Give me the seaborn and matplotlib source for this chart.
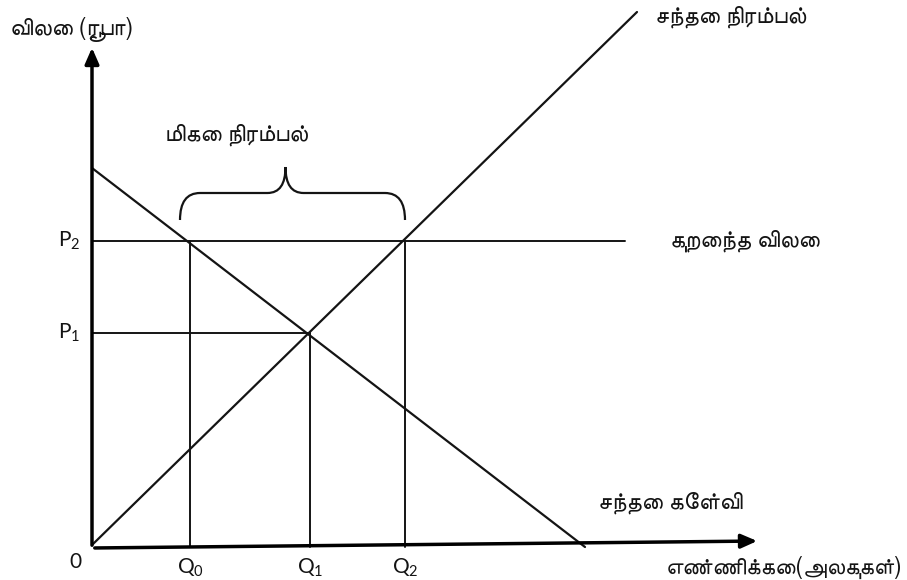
import numpy as np
import pandas as pd
import matplotlib
matplotlib.use("Agg")
import matplotlib.pyplot as plt
import seaborn as sns
from matplotlib import font_manager
from matplotlib.ft2font import FT2Font
from matplotlib.path import Path
from matplotlib.patches import PathPatch

sns.set_theme(style="white")

# -----------------------------------
# data (quantity / price units)
# -----------------------------------
q_marks = [9.8, 21.8, 31.3]          # Q0, Q1, Q2
q_labels = ["Q$_0$", "Q$_1$", "Q$_2$"]
p_marks = [21.4, 30.6]               # P1, P2 (P2 = floor price)
p_labels = ["P$_1$", "P$_2$"]

demand_q = [0.0, 49.3]
demand_p = [37.9, 0.0]
supply_q = [0.0, 54.5]
supply_p = [0.2, 53.5]
floor_end = 53.3

labels = {
    "y": "விலை (ரூபா)",
    "x": "எண்ணிக்கை(அலகுகள்)",
    "supply": "சந்தை நிரம்பல்",
    "demand": "சந்தை கேள்வி",
    "floor": "குறைந்த விலை",
    "surplus": "மிகை நிரம்பல்",
}


def tamil_fonts():
    found = []
    for f in font_manager.fontManager.ttflist:
        try:
            if 0x0B95 in FT2Font(f.fname).get_charmap():
                found.append(f.name)
        except Exception:
            pass
    # prefer proportional sans faces
    found = sorted(set(found), key=lambda n: ("Mono" in n, "Sans" not in n, n))
    return found


tam = tamil_fonts()
latin = ["Lato", "DejaVu Sans"]
tamil_family = tam[:1] + latin
plt.rcParams["font.family"] = latin
plt.rcParams["mathtext.default"] = "regular"
plt.rcParams["mathtext.fontset"] = "custom"
plt.rcParams["mathtext.rm"] = "Lato"

ink = "#141414"

fig = plt.figure(figsize=(9.07, 5.80), dpi=100)
ax = fig.add_axes([0, 0, 1, 1])
ax.set_xlim(-9.2, 81.5)
ax.set_ylim(-3.3, 54.7)
ax.axis("off")

# curves
df = pd.concat([
    pd.DataFrame({"q": demand_q, "p": demand_p, "curve": "demand"}),
    pd.DataFrame({"q": supply_q, "p": supply_p, "curve": "supply"}),
])
sns.lineplot(data=df, x="q", y="p", units="curve", estimator=None,
             color=ink, lw=1.6, ax=ax, legend=False, sort=False)

# floor price line and P1 guide
ax.plot([0, floor_end], [p_marks[1], p_marks[1]], color=ink, lw=1.4)
ax.plot([0, q_marks[1]], [p_marks[0], p_marks[0]], color=ink, lw=1.4)

# vertical guides
ax.plot([q_marks[0], q_marks[0]], [0, p_marks[1]], color=ink, lw=1.4)
ax.plot([q_marks[1], q_marks[1]], [0, p_marks[0]], color=ink, lw=1.4)
ax.plot([q_marks[2], q_marks[2]], [0, p_marks[1]], color=ink, lw=1.4)

# axes with arrows
arrow = dict(arrowstyle="-|>,head_length=0.8,head_width=0.35", color="black", lw=2.5)
ax.annotate("", xy=(0, 50.2), xytext=(0, -0.1), arrowprops=arrow)
ax.annotate("", xy=(66.8, 0.6), xytext=(0, -0.1), arrowprops=arrow)

# brace over the surplus
bl, br = 8.8, q_marks[2]
y0, y1, yt = 32.7, 35.4, 38.0
bm = (bl + br) / 2 - 0.7
verts = [
    (bl, y0), (bl, y1), (bl + 2.0, y1),
    (bm - 1.8, y1),
    (bm, y1), (bm, yt),
    (bm, y1), (bm + 1.8, y1),
    (br - 2.0, y1),
    (br, y1), (br, y0),
]
codes = [Path.MOVETO, Path.CURVE3, Path.CURVE3,
         Path.LINETO,
         Path.CURVE3, Path.CURVE3,
         Path.CURVE3, Path.CURVE3,
         Path.LINETO,
         Path.CURVE3, Path.CURVE3]
ax.add_patch(PathPatch(Path(verts, codes), fill=False, ec=ink, lw=1.6))

# tick-like labels
fs = 15
for q, lab in zip(q_marks, q_labels):
    ax.text(q, -2.1, lab, ha="center", va="center", fontsize=fs, color=ink)
for p, lab in zip(p_marks, p_labels):
    ax.text(-1.2, p, lab, ha="right", va="center", fontsize=fs, color=ink)
ax.text(-1.7, -1.5, "0", ha="center", va="center", fontsize=fs, color=ink)

# text labels
ts = 17
kw = dict(ha="left", va="center", fontsize=ts, color=ink, family=tamil_family)
ax.text(-8.2, 51.7, labels["y"], **kw)
ax.text(56.3, 53.0, labels["supply"], **kw)
ax.text(7.3, 41.2, labels["surplus"], **kw)
ax.text(57.8, p_marks[1], labels["floor"], **kw)
ax.text(50.6, 4.5, labels["demand"], **kw)
ax.text(57.4, -2.0, labels["x"], **dict(kw, fontsize=16.5))

fig.savefig("out.png", dpi=100, facecolor="white")
